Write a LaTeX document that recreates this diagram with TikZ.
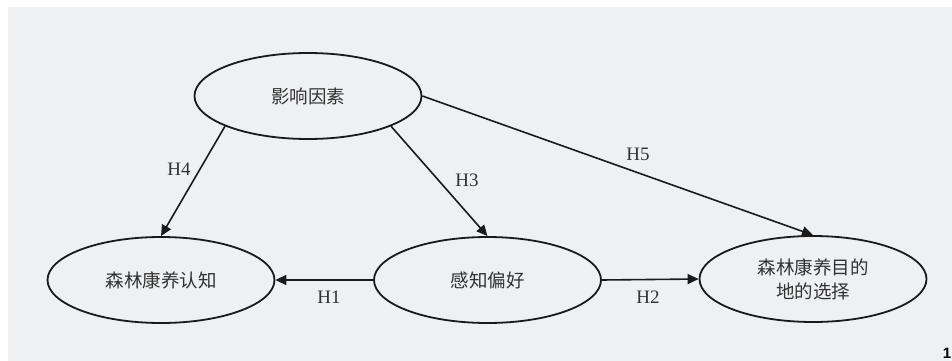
\documentclass[tikz,border=0pt]{standalone}
\usepackage{fontspec}
\setmainfont{Liberation Serif}
\newfontfamily\cjk{Noto Sans CJK SC}
\newfontfamily\fragfont{Liberation Sans}
\usetikzlibrary{shapes.geometric,arrows.meta}
\definecolor{bgpanel}{RGB}{239,240,242}
\definecolor{inkline}{RGB}{26,26,26}
\definecolor{inktext}{RGB}{50,50,50}
\tikzset{
  oval/.style={ellipse, draw=inkline, line width=1.8pt, minimum width=227pt, minimum height=86pt, inner sep=0pt, align=center, text=inktext, font=\cjk\fontsize{18.5}{24}\selectfont},
  arr/.style={draw=inkline, line width=1.6pt, -{Triangle[length=11pt,width=10pt]}},
  hlab/.style={text=inktext, font=\fontsize{19}{22}\selectfont, inner sep=0pt}
}
\begin{document}
\begin{tikzpicture}[x=1pt,y=-1pt]
\useasboundingbox (0,0) rectangle (952,361);
\fill[bgpanel] (8,7) rectangle (952,361);
\node[oval] (top) at (308,96) {影响因素};
\node[oval] (left) at (161,280) {森林康养认知};
\node[oval] (mid) at (487.5,280) {感知偏好};
\node[oval] (right) at (813,279) {森林康养目的\\地的选择};
\draw[arr] (top.200.6) -- (left.north);
\draw[arr] (top.340.5) -- (mid.north);
\draw[arr] (top.east) -- (right.north);
\draw[arr] (mid.west) -- (left.east);
\draw[arr] (mid.east) -- (right.west);
\node[hlab] (h4) at (179,169) {H4};
\node[hlab] (h3) at (467,180) {H3};
\node[hlab] (h5) at (638,154) {H5};
\node[hlab] (h1) at (329,297) {H1};
\node[hlab] (h2) at (648,297) {H2};
\node[font=\fragfont\bfseries\fontsize{15}{15}\selectfont, anchor=south east, inner sep=0pt] (frag) at (951.5,359) {1};
\end{tikzpicture}
\end{document}
